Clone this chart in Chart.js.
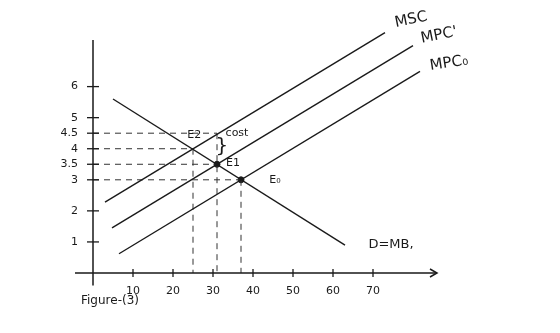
<!DOCTYPE html>
<html>
<head>
<meta charset="utf-8">
<script src="https://cdn.jsdelivr.net/npm/chart.js@4/dist/chart.umd.min.js"></script>
<style>
  html, body { margin: 0; padding: 0; background: #ffffff; }
  #wrap { width: 560px; height: 333px; position: relative; }
</style>
</head>
<body>
<div id="wrap"><canvas id="c" width="560" height="333"></canvas></div>
<script>
// ---- data ----
const xTickValues = [10, 20, 30, 40, 50, 60, 70];
const yTickValues = [1, 2, 3, 3.5, 4, 4.5, 5, 6];
const yTickLabels = ['1', '2', '3', '3.5', '4', '4.5', '5', '6'];

// curves (two end points each)
const demandX = [5, 63];      const demandY = [5.6, 0.9];      // D = MB
const mscX    = [3, 73];      const mscY    = [2.28, 7.74];    // MSC
const mpc1X   = [4.75, 80];   const mpc1Y   = [1.45, 7.32];    // MPC'
const mpc0X   = [6.5, 81.75]; const mpc0Y   = [0.62, 6.49];    // MPC0

// equilibria
const eqNames = ['E2', 'E1', 'E0'];
const eqX = [25, 31, 37];
const eqY = [4, 3.5, 3];
const costTopY = 4.5;   // MSC price above E1

const pts = (xs, ys) => xs.map((x, i) => ({ x: x, y: ys[i] }));

const ink = '#1a1a1a';
const dash = [6, 5];

const lineDs = (data, w) => ({
  data: data, borderColor: ink, borderWidth: w || 1.4, pointRadius: 0,
  fill: false, clip: false, tension: 0
});
const dashDs = (data) => ({
  data: data, borderColor: '#333', borderWidth: 1, borderDash: dash, pointRadius: 0,
  fill: false, clip: false
});

const datasets = [
  lineDs(pts(demandX, demandY)),
  lineDs(pts(mscX, mscY)),
  lineDs(pts(mpc1X, mpc1Y)),
  lineDs(pts(mpc0X, mpc0Y)),
  // horizontal guides
  dashDs([{ x: 0, y: costTopY }, { x: eqX[1], y: costTopY }]),
  dashDs([{ x: 0, y: eqY[0] }, { x: eqX[0], y: eqY[0] }]),
  dashDs([{ x: 0, y: eqY[1] }, { x: eqX[1], y: eqY[1] }]),
  dashDs([{ x: 0, y: eqY[2] }, { x: eqX[2], y: eqY[2] }]),
  // vertical guides
  dashDs([{ x: eqX[0], y: eqY[0] }, { x: eqX[0], y: 0 }]),
  dashDs([{ x: eqX[1], y: costTopY }, { x: eqX[1], y: 0 }]),
  dashDs([{ x: eqX[2], y: eqY[2] }, { x: eqX[2], y: 0 }]),
  // equilibrium dots (E1, E0)
  {
    type: 'scatter',
    data: [{ x: eqX[1], y: eqY[1] }, { x: eqX[2], y: eqY[2] }],
    pointRadius: 3, pointBackgroundColor: ink, pointBorderColor: ink, clip: false
  }
];

const annotations = {
  id: 'annotations',
  afterDraw(chart) {
    const ctx = chart.ctx;
    const xs = chart.scales.x, ys = chart.scales.y;
    const X = v => xs.getPixelForValue(v), Y = v => ys.getPixelForValue(v);
    ctx.save();
    ctx.strokeStyle = ink;
    ctx.fillStyle = ink;
    ctx.lineWidth = 1.5;
    // axes
    ctx.beginPath();
    ctx.moveTo(X(0), Y(-0.4));
    ctx.lineTo(X(0), ys.top);
    ctx.moveTo(X(-4.5), Y(0));
    ctx.lineTo(xs.right, Y(0));
    ctx.stroke();
    // arrow head on x axis
    ctx.beginPath();
    ctx.moveTo(xs.right - 7, Y(0) - 4);
    ctx.lineTo(xs.right, Y(0));
    ctx.lineTo(xs.right - 7, Y(0) + 4);
    ctx.stroke();
    // tick crosses
    ctx.lineWidth = 1.3;
    xTickValues.forEach(v => {
      ctx.beginPath(); ctx.moveTo(X(v), Y(0) - 4); ctx.lineTo(X(v), Y(0) + 4); ctx.stroke();
    });
    yTickValues.forEach(v => {
      ctx.beginPath(); ctx.moveTo(X(0) - 6, Y(v)); ctx.lineTo(X(0) + 6, Y(v)); ctx.stroke();
    });
    // texts
    ctx.textBaseline = 'middle';
    ctx.textAlign = 'center';
    ctx.font = '11px "DejaVu Sans"';
    ctx.fillText('E2', X(25.3), Y(4.45));
    ctx.fillText('E1', X(35), Y(3.55));
    ctx.fillText('E₀', X(45.5), Y(3.0));
    // brace + cost
    ctx.font = '20px "DejaVu Sans"';
    ctx.fillText('}', X(eqX[1] + 1.2), Y((costTopY + eqY[1]) / 2 + 0.05));
    ctx.font = '11px "DejaVu Sans"';
    ctx.fillText('cost', X(36), Y(4.5));
    // curve labels
    ctx.font = '15px "DejaVu Sans"';
    ctx.save();
    ctx.translate(X(79.5), Y(8.15));
    ctx.rotate(-0.2);
    ctx.fillText('MSC', 0, 0);
    ctx.restore();
    ctx.save();
    ctx.translate(X(86.5), Y(7.65));
    ctx.rotate(-0.2);
    ctx.fillText("MPC'", 0, 0);
    ctx.restore();
    ctx.save();
    ctx.translate(X(89), Y(6.75));
    ctx.rotate(-0.15);
    ctx.fillText('MPC₀', 0, 0);
    ctx.restore();
    ctx.font = '13px "DejaVu Sans"';
    ctx.fillText('D=MB,', X(74.5), Y(0.9));
    // caption
    ctx.font = '12px "DejaVu Sans"';
    ctx.textAlign = 'left';
    ctx.fillText('Figure-(3)', X(-3), ys.bottom + 28);
    ctx.restore();
  }
};

new Chart(document.getElementById('c'), {
  type: 'line',
  data: { datasets: datasets },
  options: {
    responsive: false,
    animation: false,
    parsing: true,
    layout: { padding: { top: 40, right: 123, left: 0, bottom: 0 } },
    plugins: { legend: { display: false }, tooltip: { enabled: false } },
    scales: {
      x: {
        type: 'linear', min: 0, max: 86,
        grid: { display: false, drawTicks: false },
        border: { display: false },
        afterFit: s => { s.height = 60; },
        afterBuildTicks: s => { s.ticks = xTickValues.map(v => ({ value: v })); },
        ticks: { color: ink, padding: 12, font: { family: 'DejaVu Sans', size: 11 }, maxRotation: 0, autoSkip: false }
      },
      y: {
        type: 'linear', min: 0, max: 7.5,
        grid: { display: false, drawTicks: false },
        border: { display: false },
        afterFit: s => { s.width = 93; },
        afterBuildTicks: s => { s.ticks = yTickValues.map(v => ({ value: v })); },
        ticks: {
          color: ink, padding: 15, autoSkip: false,
          font: { family: 'DejaVu Sans', size: 11 },
          callback: (v) => yTickLabels[yTickValues.indexOf(v)]
        }
      }
    }
  },
  plugins: [annotations]
});
</script>
</body>
</html>
